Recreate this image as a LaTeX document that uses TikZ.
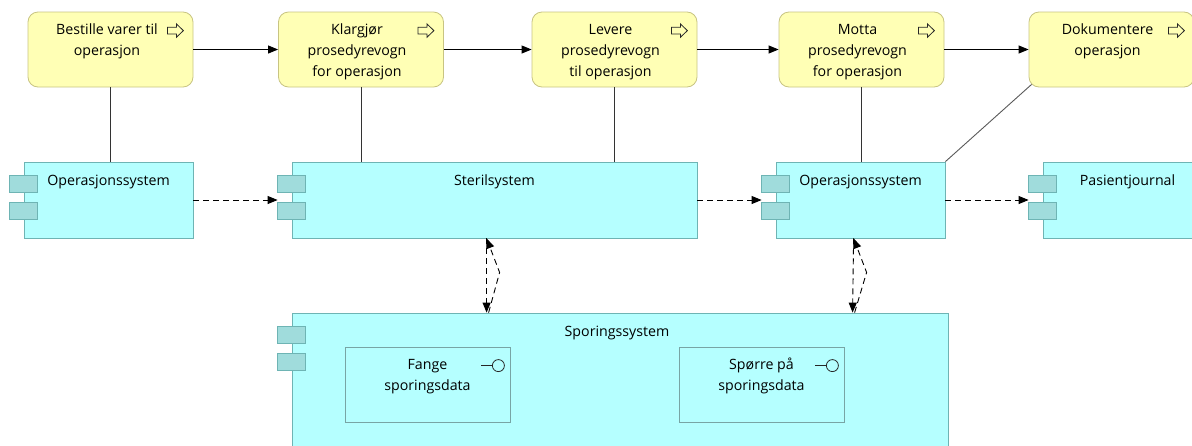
\documentclass[tikz,border=0pt]{standalone}
\usepackage{fontspec}
\setmainfont{Open Sans}
\usetikzlibrary{arrows.meta,calc}
\definecolor{bizfill}{RGB}{255,255,181}
\definecolor{bizdraw}{RGB}{200,196,130}
\definecolor{appfill}{RGB}{181,255,255}
\definecolor{appdraw}{RGB}{110,180,180}
\definecolor{tabfill}{RGB}{160,220,220}
\definecolor{fundraw}{RGB}{120,165,165}
\newcommand{\mystrut}{\rule{0pt}{11.5pt}}
\begin{document}
\begin{tikzpicture}[x=1pt,y=-1pt,
  every node/.style={font=\fontsize{14.2}{21}\selectfont},
  process/.style={draw=bizdraw, fill=bizfill, rounded corners=10pt, minimum width=165pt, minimum height=75pt, inner sep=0pt, line width=0.8pt},
  appcomp/.style={draw=appdraw, fill=appfill, minimum height=76pt, inner sep=0pt, line width=0.8pt},
  tabbox/.style={draw=appdraw, fill=tabfill, line width=0.8pt},
  func/.style={draw=fundraw, fill=appfill, minimum width=165pt, minimum height=75pt, inner sep=0pt, line width=0.8pt},
  txt/.style={inner sep=0pt, align=center, anchor=north},
  lbl/.style={inner sep=0pt, anchor=base},
  flow/.style={-{Triangle[length=10pt,width=8pt]}, line width=0.9pt},
  assoc/.style={line width=0.9pt, draw=black!80},
  dep/.style={-{Triangle[length=10pt,width=8pt]}, line width=0.9pt, dash pattern=on 6pt off 4pt},
  icon/.style={draw=black!85, line width=0.8pt},
]
\useasboundingbox (0,0) rectangle (1192,445);
\clip (0,0) rectangle (1192,445);

% business processes
\node[process] (b1) at (110.5,49.5) {};
\node[process] (b2) at (361,49.5) {};
\node[process] (b3) at (614.5,49.5) {};
\node[process] (b4) at (861.5,49.5) {};
\node[process] (b5) at (1111.5,49.5) {};
\node[txt] (b1t) at ($(b1.north)+(-3.5,11.5)$) {\mystrut Bestille varer til\\operasjon};
\node[txt] (b2t) at ($(b2.north)+(-4,11.5)$) {\mystrut Klargjør\\prosedyrevogn\\for operasjon};
\node[txt] (b3t) at ($(b3.north)+(-4,11.5)$) {\mystrut Levere\\prosedyrevogn\\til operasjon};
\node[txt] (b4t) at ($(b4.north)+(-4,11.5)$) {\mystrut Motta\\prosedyrevogn\\for operasjon};
\node[txt] (b5t) at ($(b5.north)+(-4,11.5)$) {\mystrut Dokumentere\\operasjon};
\foreach \n in {b1,b2,b3,b4,b5}{
  \draw[icon, shift={(\n.north east)}] (-26,15.7) -- (-17,15.7) -- (-17,12.3) -- (-10,19) -- (-17,25.7) -- (-17,22.3) -- (-26,22.3) -- cycle;
}

% application components
\node[appcomp, minimum width=169pt] (op1) at (108.5,200) {};
\node[appcomp, minimum width=405pt] (st) at (494.5,200) {};
\node[appcomp, minimum width=169pt] (op2) at (860.5,200) {};
\node[appcomp, minimum width=169pt] (pj) at (1127.5,200) {};
\node[appcomp, minimum width=656pt, minimum height=152pt] (sp) at (620,389) {};
\foreach \n in {op1,st,op2,pj,sp}{
  \draw[tabbox, shift={(\n.north west)}] (-14,14) rectangle (14,31);
  \draw[tabbox, shift={(\n.north west)}] (-14,41) rectangle (14,58);
}
\node[lbl] (op1t) at ($(op1.north)+(0,24)$) {Operasjonssystem};
\node[lbl] (stt) at ($(st.north)+(0,24)$) {Sterilsystem};
\node[lbl] (op2t) at ($(op2.north)+(0,24)$) {Operasjonssystem};
\node[lbl] (pjt) at ($(pj.north)+(0,24)$) {Pasientjournal};
\node[lbl] (spt) at ($(sp.north)+(-3,24)$) {Sporingssystem};

% application functions
\node[func] (fg) at (427.5,384.5) {};
\node[func] (sq) at (761.5,384.5) {};
\node[txt] (fgt) at ($(fg.north)+(0,11)$) {\mystrut Fange\\sporingsdata};
\node[txt] (sqt) at ($(sq.north)+(0,11)$) {\mystrut Spørre på\\sporingsdata};
\foreach \n in {fg,sq}{
  \draw[icon, shift={(\n.north east)}] (-29,19) -- (-18,19);
  \draw[icon, shift={(\n.north east)}] (-12,19) circle[radius=6];
}

% triggering flow
\draw[flow] (b1.east) -- (b2.west);
\draw[flow] (b2.east) -- (b3.west);
\draw[flow] (b3.east) -- (b4.west);
\draw[flow] (b4.east) -- (b5.west);

% associations
\draw[assoc] (b1.south) -- (b1.south |- op1.north);
\draw[assoc] (b2.south) -- (b2.south |- st.north);
\draw[assoc] (b3.south) -- (b3.south |- st.north);
\draw[assoc] (b4.south) -- (b4.south |- op2.north);
\draw[assoc, draw=black!65] ($(b5.south west)+(3,-3)$) -- (op2.north east);

% flows between applications
\draw[dep] (op1.east) -- ([xshift=-14pt]st.west);
\draw[dep] (st.east) -- ([xshift=-14pt]op2.west);
\draw[dep] (op2.east) -- ([xshift=-14pt]pj.west);

\draw[dep] ($(st.south west)+(195,0)$) -- ($(sp.north west)+(195,0)$);
\draw[dep] ($(sp.north west)+(197,0)$) -- ($(st.south west)+(208,34)$) -- ($(st.south west)+(195,0)$);
\draw[dep] ($(op2.south west)+(78,0)$) -- ($(sp.north west)+(561,0)$);
\draw[dep] ($(sp.north west)+(563,0)$) -- ($(op2.south west)+(91,34)$) -- ($(op2.south west)+(78,0)$);
\end{tikzpicture}
\end{document}
